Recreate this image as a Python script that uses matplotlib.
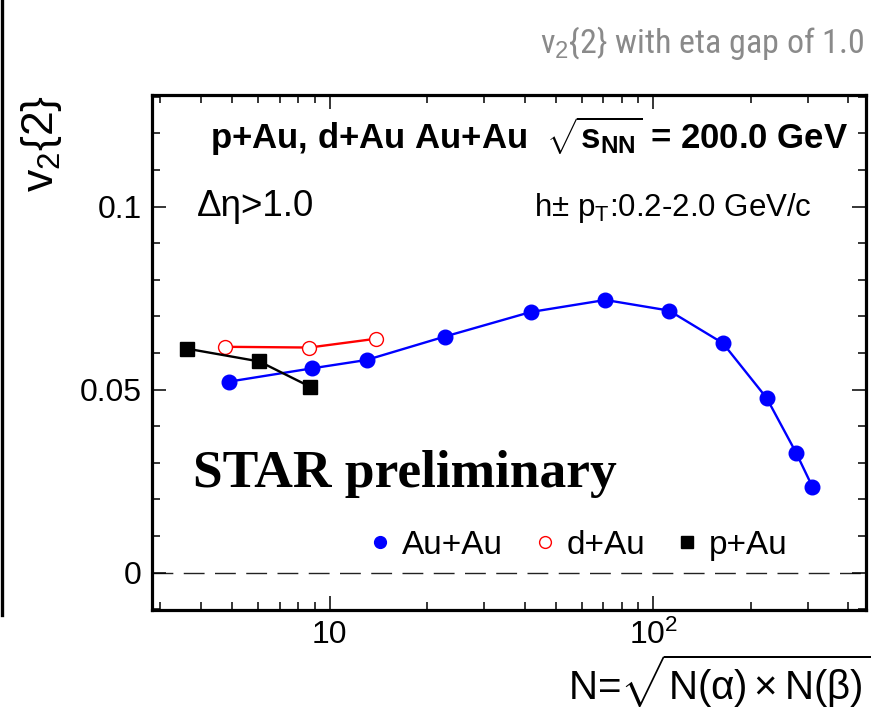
import matplotlib
matplotlib.use('Agg')
import matplotlib.pyplot as plt
from matplotlib.lines import Line2D
from matplotlib.ticker import FixedLocator, FixedFormatter, LogLocator, MultipleLocator, NullFormatter
from matplotlib import font_manager

# ---- data ----
auau_n = [4.90, 8.80, 13.0, 22.7, 41.8, 71.1, 111.8, 164.0, 224.0, 276.0, 310.0]
auau_v2 = [0.0522, 0.0558, 0.0581, 0.0645, 0.0712, 0.0745, 0.0716, 0.0627, 0.0477, 0.0328, 0.0235]
dau_n = [4.75, 8.66, 13.9]
dau_v2 = [0.0617, 0.0615, 0.0639]
pau_n = [3.62, 6.06, 8.70]
pau_v2 = [0.0612, 0.0577, 0.0508]

series_labels = ['Au+Au', 'd+Au', 'p+Au']
xtick_vals = [10, 100]
xtick_labels = ['10', r'10$^{2}$']
ytick_vals = [0.0, 0.05, 0.1]
ytick_labels = ['0', '0.05', '0.1']

plt.rcParams['font.family'] = ['Liberation Sans', 'DejaVu Sans']
plt.rcParams['mathtext.fontset'] = 'custom'
plt.rcParams['mathtext.rm'] = 'Liberation Sans'
plt.rcParams['mathtext.it'] = 'Liberation Sans:italic'
plt.rcParams['mathtext.bf'] = 'Liberation Sans:bold'

# pick a condensed face for the title if one is installed
available = {f.name for f in font_manager.fontManager.ttflist}
narrow = None
for cand in ['Liberation Sans Narrow', 'DejaVu Sans Condensed', 'Roboto Condensed',
             'Open Sans Condensed', 'Noto Sans Condensed']:
    if cand in available:
        narrow = cand
        break

fig = plt.figure(figsize=(8.78, 7.12), dpi=100)
ax = fig.add_axes([0.1728, 0.1433, 0.8135, 0.7233])

ax.set_xscale('log')
ax.set_xlim(2.82, 454)
ax.set_ylim(-0.0102, 0.1305)

ax.axhline(0, color='#222222', lw=1.0, dashes=(15, 7.5), zorder=1)

ax.plot(auau_n, auau_v2, color='#0000ff', lw=1.7, marker='o', ms=10.5,
        mfc='#0000ff', mec='#0000ff', zorder=3)
ax.plot(dau_n, dau_v2, color='#ff0000', lw=1.7, marker='o', ms=10,
        mfc='white', mec='#ff0000', mew=1.0, zorder=3)
ax.plot(pau_n, pau_v2, color='black', lw=1.7, marker='s', ms=9.5,
        mfc='black', mec='black', zorder=3)

# ticks
ax.xaxis.set_major_locator(FixedLocator(xtick_vals))
ax.xaxis.set_major_formatter(FixedFormatter(xtick_labels))
ax.xaxis.set_minor_locator(LogLocator(base=10, subs=[2, 3, 4, 5, 6, 7, 8, 9]))
ax.xaxis.set_minor_formatter(NullFormatter())
ax.yaxis.set_major_locator(FixedLocator(ytick_vals))
ax.yaxis.set_major_formatter(FixedFormatter(ytick_labels))
ax.yaxis.set_minor_locator(MultipleLocator(0.01))

ax.tick_params(which='both', direction='in', top=True, right=True, width=1.1, colors='black')
ax.tick_params(which='major', length=10, labelsize=23, pad=7)
ax.tick_params(which='minor', length=5.5)
for s in ax.spines.values():
    s.set_linewidth(2.3)

# texts inside
ax.text(0.0816, 0.895, r'p+Au, d+Au Au+Au  $\sqrt{\mathbf{s}_{\mathbf{NN}}}$ = 200.0 GeV',
        transform=ax.transAxes, fontsize=25, fontweight='bold', ha='left', va='baseline')
ax.text(0.0634, 0.765, 'Δη>1.0', transform=ax.transAxes, fontsize=26.5,
        ha='left', va='baseline')
ax.text(0.924, 0.765, r'h$\pm$ p$_{\mathrm{T}}$:0.2-2.0 GeV/c', transform=ax.transAxes,
        fontsize=22.5, ha='right', va='baseline')
ax.text(0.0578, 0.239, 'STAR preliminary', transform=ax.transAxes, fontsize=38.5,
        fontweight='bold', family='Liberation Serif', ha='left', va='baseline')

handles = [
    Line2D([], [], ls='none', marker='o', ms=8.5, mfc='#0000ff', mec='#0000ff'),
    Line2D([], [], ls='none', marker='o', ms=8.5, mfc='white', mec='#ff0000', mew=1.0),
    Line2D([], [], ls='none', marker='s', ms=8, mfc='black', mec='black'),
]
ax.legend(handles, series_labels, ncol=3, frameon=False, fontsize=24,
          loc='center', bbox_to_anchor=(0.598, 0.126), handlelength=0.6,
          handletextpad=0.35, columnspacing=0.95, borderpad=0.2)

# figure-level labels
if narrow:
    fig.text(865 / 878, 1 - 53 / 712, r'v$_{2}${2} with eta gap of 1.0', color='#8a8a8a',
             fontsize=24.5, family=narrow, ha='right', va='baseline')
else:
    fig.text(865 / 878, 1 - 53 / 712, r'v$_{2}${2} with eta gap of 1.0', color='#8a8a8a',
             fontsize=19, ha='right', va='baseline')
fig.text(42 / 878, 1 - 95 / 712, r'v$_{2}${2}', rotation=90, fontsize=32,
         ha='center', va='top')
fig.text(870 / 878, 1 - 700 / 712, r'N=$\sqrt{\mathrm{N(\alpha)\times N(\beta)}}$',
         fontsize=29, ha='right', va='baseline')

fig.add_artist(Line2D([0.0018, 0.0018], [1.0, 1 - 615 / 712], transform=fig.transFigure,
                      color='black', lw=2.4))

fig.savefig('out.png', dpi=100)
